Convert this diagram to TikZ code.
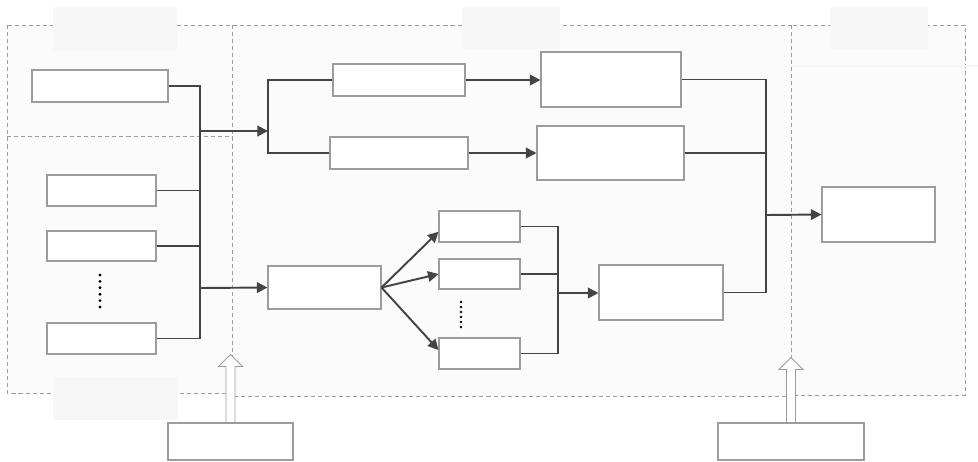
\documentclass[tikz,border=0pt]{standalone}
\usetikzlibrary{arrows.meta,fit}
\definecolor{linegray}{HTML}{444444}
\definecolor{boxgray}{HTML}{9C9C9C}
\begin{document}
\begin{tikzpicture}[x=0.02cm,y=-0.02cm,
  region/.style={draw=boxgray,dash pattern=on 2.3pt off 1.7pt,line width=0.5pt,fill=gray!3},
  box/.style={draw=boxgray,line width=0.6pt,fill=white,inner sep=0pt},
  lbl/.style={fill=gray!6,inner sep=0pt},
  conn/.style={draw=linegray,line width=1.1pt},
  arr/.style={conn,-{Triangle[length=6pt,width=6pt]}},
  hollow/.style={draw=boxgray,line width=0.5pt,fill=white}]
\useasboundingbox (0,0) rectangle (978,461);
% dashed regions
\draw[region] (7,25) rectangle (232,393);
\draw[region] (232,25) rectangle (791,396);
\draw[region] (791,25) rectangle (965,395);
\draw[boxgray,dash pattern=on 2.3pt off 1.7pt,line width=0.5pt] (7,136) -- (232,136);
\draw[gray!6,line width=1.5pt] (793,66) -- (978,66);
% label placeholders
\node[lbl,fit={(53,7)(177,50)}] (tl) {};
\node[lbl,fit={(462,7)(560,49)}] (tm) {};
\node[lbl,fit={(830,7)(928,49)}] (tr) {};
\node[lbl,fit={(53,377)(178,420)}] (bl) {};
% left column
\node[box,fit={(32,70)(168,102)}] (a1) {};
\node[box,fit={(47,175)(156,206)}] (b1) {};
\node[box,fit={(47,231)(156,261)}] (b2) {};
\node[box,fit={(47,323)(156,354)}] (b3) {};
\foreach \k in {0,...,5} \fill[black] (100,275+\k*6.4) circle (0.9pt);
% middle
\node[box,fit={(333,64)(465,96)}] (c1) {};
\node[box,fit={(330,137)(468,169)}] (c2) {};
\node[box,fit={(541,52)(681,107)}] (d1) {};
\node[box,fit={(537,126)(684,180)}] (d2) {};
\node[box,fit={(268,266)(381,309)}] (e) {};
\node[box,fit={(439,211)(520,242)}] (f1) {};
\node[box,fit={(439,259)(520,289)}] (f2) {};
\node[box,fit={(439,338)(520,369)}] (f3) {};
\foreach \k in {0,...,5} \fill[black] (461,302+\k*5) circle (0.8pt);
\node[box,fit={(599,265)(723,320)}] (g) {};
% right
\node[box,fit={(822,187)(935,242)}] (h) {};
% bottom
\node[box,fit={(168,423)(293,460)}] (i1) {};
\node[box,fit={(718,423)(864,460)}] (i2) {};
% junctions
\coordinate (j1) at (200,131);
\coordinate (j2) at (200,288);
\coordinate (k1) at (268,131);
\coordinate (k2) at (558,293);
\coordinate (k3) at (766,215);
% connectors
\draw[conn] (a1.east) -- (a1.east -| j1) -- (b3.east -| j1) -- (b3.east);
\draw[conn] (b1.east) -- (b1.east -| j1);
\draw[conn] (b2.east) -- (b2.east -| j1);
\draw[arr] (j1) -- (k1);
\draw[arr] (j2) -- (e.west);
\draw[conn] (c1.west) -- (c1.west -| k1) -- (c2.west -| k1) -- (c2.west);
\draw[arr] (c1.east) -- (c1.east -| d1.west);
\draw[arr] (c2.east) -- (c2.east -| d2.west);
\draw[arr] (e.east) -- ([yshift=-3pt]f1.west);
\draw[arr] (e.east) -- (f2.west);
\draw[arr] (e.east) -- ([yshift=2pt]f3.west);
\draw[conn] (f1.east) -- (f1.east -| k2) -- (f3.east -| k2) -- (f3.east);
\draw[conn] (f2.east) -- (f2.east -| k2);
\draw[arr] (k2) -- (k2 -| g.west);
\draw[conn] (d1.east) -- (d1.east -| k3) -- (g.east -| k3) -- (g.east);
\draw[conn] (d2.east) -- (d2.east -| k3);
\draw[arr] (k3) -- (h.west);
% hollow arrows
\draw[hollow] (i1.north) ++(-4.5,0) -- ++(0,-56) -- ++(-7.5,0) -- ++(12,-12) -- ++(12,12) -- ++(-7.5,0) -- ++(0,56) -- cycle;
\draw[hollow] (i2.north) ++(-4.5,0) -- ++(0,-53) -- ++(-7.5,0) -- ++(12,-12) -- ++(12,12) -- ++(-7.5,0) -- ++(0,53) -- cycle;
\end{tikzpicture}
\end{document}
